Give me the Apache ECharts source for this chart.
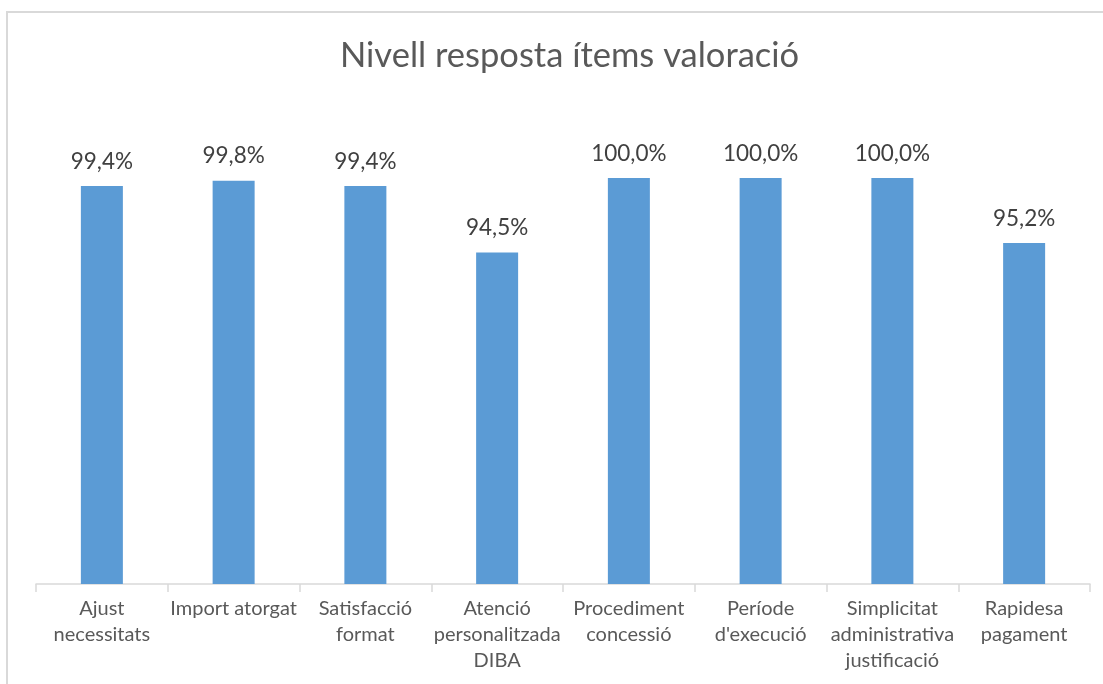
<!DOCTYPE html>
<html><head><meta charset="utf-8">
<script src="https://cdn.jsdelivr.net/npm/echarts@6/dist/echarts.min.js"></script>
<style>html,body{margin:0;padding:0;background:#fff}#c{width:1103px;height:684px;position:relative}
#frame{position:absolute;left:6px;top:11px;width:1120px;height:700px;border:2px solid #d9d9d9;box-sizing:border-box;pointer-events:none}</style>
</head><body><div id="c"></div><div id="frame"></div>
<script>
const categories = ["Ajust\nnecessitats","Import atorgat","Satisfacció\nformat","Atenció\npersonalitzada\nDIBA","Procediment\nconcessió","Període\nd'execució","Simplicitat\nadministrativa\njustificació","Rapidesa\npagament"];
const values = [99.4, 99.8, 99.4, 94.5, 100.0, 100.0, 100.0, 95.2];
const titleText = "Nivell resposta ítems valoració";
const chart = echarts.init(document.getElementById('c'));
chart.setOption({
  animation:false,
  backgroundColor:'#fff',
  title:{text:titleText,left:335,top:33,textStyle:{fontFamily:'Lato',fontWeight:'normal',fontSize:34.5,color:'#595959'}},
  grid:{left:36,right:13,top:178,bottom:100},
  xAxis:{type:'category',data:categories,
    axisLine:{lineStyle:{color:'#d9d9d9',width:1.5}},
    axisTick:{show:true,length:8,lineStyle:{color:'#d9d9d9',width:1.5},alignWithLabel:false},
    axisLabel:{interval:0,fontFamily:'Lato',fontSize:20,color:'#595959',lineHeight:26,margin:12}},
  yAxis:{type:'value',min:70,max:100,show:false,splitLine:{show:false}},
  series:[{type:'bar',data:values,barWidth:42,itemStyle:{color:'#5B9BD5'},
    label:{show:true,position:'top',distance:13,fontFamily:'Lato',fontSize:22.5,color:'#404040',
      formatter:p=>p.value.toFixed(1).replace('.',',')+'%'}}]
});
</script></body></html>
